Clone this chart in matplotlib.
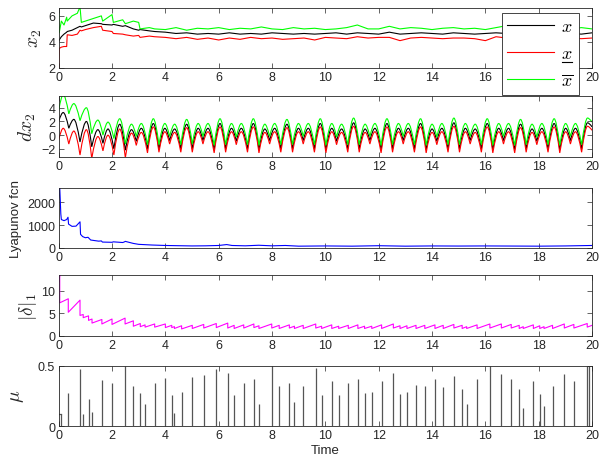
import numpy as np
import matplotlib
matplotlib.use("Agg")
import matplotlib.pyplot as plt
from matplotlib.lines import Line2D
from matplotlib.path import Path
from matplotlib.patches import PathPatch

plt.rcParams['font.family'] = ['Liberation Sans', 'DejaVu Sans']
plt.rcParams['mathtext.fontset'] = 'cm'

# ---------------- data ----------------
x2_t = [0, 0.02, 0.1, 0.2, 0.3, 0.32, 0.5, 0.7, 0.8, 0.85, 1.0, 1.3, 1.6, 1.65, 2.0, 2.05,
        2.4, 2.5, 2.8, 3.0, 3.05, 3.4, 3.6, 4.0, 4.4, 4.8, 5.2, 5.6, 6.0, 6.4, 6.8, 7.2,
        7.6, 8.0, 8.4, 8.8, 9.2, 9.6, 10.0, 10.4, 10.8, 11.2, 11.6, 12.0, 12.4, 12.8, 13.2,
        13.6, 14.0, 14.4, 14.8, 15.2, 15.6, 16.0, 16.4, 16.8, 17.2, 17.6, 18.0, 18.4, 18.8,
        19.2, 19.6, 20.0]
x2_mid = [4.05, 4.15, 4.4, 4.6, 4.75, 4.8, 4.9, 5.1, 5.2, 5.15, 5.25, 5.45, 5.4, 5.35, 5.3, 5.35,
          5.2, 5.25, 5.0, 4.9, 4.95, 4.85, 4.8, 4.75, 4.65, 4.7, 4.6, 4.65, 4.6, 4.7, 4.6, 4.65,
          4.6, 4.7, 4.65, 4.6, 4.65, 4.6, 4.65, 4.7, 4.6, 4.7, 4.65, 4.6, 4.75, 4.6, 4.65,
          4.7, 4.65, 4.6, 4.7, 4.65, 4.6, 4.65, 4.7, 4.65, 4.6, 4.7, 4.65, 4.6, 4.7,
          4.65, 4.6, 4.7]
x2_low = [2.0, 3.5, 3.6, 3.65, 3.65, 4.55, 4.5, 4.6, 4.9, 4.85, 4.95, 5.1, 5.2, 4.9, 4.8, 4.65,
          4.6, 4.55, 4.45, 4.5, 4.35, 4.45, 4.4, 4.35, 4.25, 4.35, 4.2, 4.3, 4.15, 4.3, 4.2, 4.35,
          4.25, 4.3, 4.2, 4.25, 4.3, 4.15, 4.35, 4.3, 4.25, 4.4, 4.3, 4.35, 4.35, 4.1, 4.3,
          4.35, 4.3, 4.25, 4.3, 4.3, 4.25, 4.1, 4.4, 4.3, 4.35, 4.3, 4.25, 4.3, 4.35,
          4.3, 4.25, 4.3]
x2_up = [6.25, 4.7, 5.6, 5.3, 5.9, 5.6, 6.0, 6.2, 6.7, 5.5, 5.6, 5.8, 6.0, 5.6, 6.1, 5.5,
         5.7, 5.4, 5.6, 5.5, 5.0, 5.1, 5.0, 4.95, 5.1, 4.9, 5.05, 5.0, 5.1, 4.95, 5.05, 5.0,
         5.15, 5.0, 4.95, 5.1, 5.0, 5.05, 4.95, 5.0, 5.1, 5.3, 5.0, 5.0, 5.2, 5.0, 5.1,
         5.05, 4.95, 5.05, 5.1, 5.0, 5.05, 4.95, 5.1, 5.25, 5.0, 5.05, 5.1, 5.0, 5.05,
         5.0, 5.1, 5.0]

# dx2: alternating trough / peak values (peaks at odd positions)
dx_t = [0.00, 0.17, 0.38, 0.57, 0.80,
        1.04, 1.24, 1.47, 1.66, 1.85, 2.07,
        2.29, 2.50, 2.73, 2.91, 3.10, 3.33,
        3.55, 3.76, 3.98, 4.16, 4.35, 4.58,
        4.80, 5.01, 5.23, 5.41, 5.60, 5.83,
        6.05, 6.26, 6.48, 6.66, 6.85, 7.08,
        7.30, 7.51, 7.73, 7.91, 8.10, 8.33,
        8.56, 8.77, 8.99, 9.17, 9.36, 9.59,
        9.81, 10.02, 10.24, 10.42, 10.61, 10.84,
        11.06, 11.27, 11.49, 11.67, 11.86, 12.09,
        12.31, 12.52, 12.74, 12.92, 13.11, 13.34,
        13.57, 13.78, 14.00, 14.18, 14.37, 14.60,
        14.82, 15.03, 15.25, 15.43, 15.62, 15.85,
        16.07, 16.28, 16.50, 16.68, 16.87, 17.10,
        17.32, 17.53, 17.75, 17.93, 18.12, 18.35,
        18.58, 18.79, 19.01, 19.19, 19.38, 19.61,
        19.83, 20.00]
dx_mid = [2.0, 3.3, 1.0, 2.3, -1.0,
          2.0, -1.7, 0.8, -1.2, 0.9, -2.0,
          1.6, -2.2, 0.8, -0.9, 1.0, -2.0,
          1.7, -2.1, 1.0, -0.8, 0.9, -2.0,
          1.6, -2.0, 1.0, -0.8, 1.0, -2.1,
          1.7, -2.0, 1.0, -0.9, 1.0, -2.0,
          1.7, -2.1, 0.9, -0.8, 1.0, -2.0,
          1.6, -2.0, 1.0, -0.8, 1.0, -2.0,
          1.7, -2.1, 1.0, -0.9, 0.9, -2.0,
          1.8, -2.0, 0.9, -0.8, 1.0, -2.1,
          1.7, -2.0, 1.0, -0.8, 1.0, -2.0,
          1.7, -2.1, 0.9, -0.9, 1.0, -2.0,
          1.8, -2.0, 1.0, -0.8, 0.9, -2.0,
          1.7, -2.1, 1.0, -0.8, 1.0, -2.1,
          1.6, -2.0, 0.9, -0.9, 1.0, -2.0,
          1.7, -2.1, 1.0, -0.8, 1.0, -2.0,
          1.8, 1.2]
dx_up = [3.6, 5.9, 3.1, 4.6, 2.1,
         4.0, 0.2, 2.2, 0.0, 1.9, -0.5,
         2.4, -1.3, 1.6, -0.2, 1.7, -1.4,
         2.4, -1.4, 1.7, -0.2, 1.6, -1.4,
         2.3, -1.3, 1.7, -0.2, 1.7, -1.5,
         2.4, -1.4, 1.7, -0.3, 1.7, -1.4,
         2.4, -1.5, 1.6, -0.2, 1.7, -1.4,
         2.3, -1.4, 1.7, -0.2, 1.7, -1.4,
         2.4, -1.5, 1.7, -0.3, 1.6, -1.4,
         2.5, -1.4, 1.6, -0.2, 1.7, -1.5,
         2.4, -1.4, 1.7, -0.2, 1.7, -1.4,
         2.4, -1.5, 1.6, -0.3, 1.7, -1.4,
         2.5, -1.4, 1.7, -0.2, 1.6, -1.4,
         2.4, -1.5, 1.7, -0.2, 1.7, -1.5,
         2.3, -1.4, 1.6, -0.3, 1.7, -1.4,
         2.4, -1.5, 1.7, -0.2, 1.7, -1.4,
         2.5, 1.9]
dx_low = [-0.7, 1.0, -1.3, 0.6, -2.9,
          0.8, -3.4, -0.2, -2.3, 0.0, -2.9,
          0.9, -3.3, 0.3, -1.5, 0.4, -2.6,
          1.2, -2.5, 0.5, -1.3, 0.4, -2.5,
          1.1, -2.5, 0.5, -1.3, 0.5, -2.6,
          1.2, -2.5, 0.5, -1.4, 0.5, -2.5,
          1.2, -2.6, 0.4, -1.3, 0.5, -2.5,
          1.1, -2.5, 0.5, -1.3, 0.5, -2.5,
          1.2, -2.6, 0.5, -1.4, 0.4, -2.5,
          1.3, -2.5, 0.4, -1.3, 0.5, -2.6,
          1.2, -2.5, 0.5, -1.3, 0.5, -2.5,
          1.2, -2.6, 0.4, -1.4, 0.5, -2.5,
          1.3, -2.5, 0.5, -1.3, 0.4, -2.5,
          1.2, -2.6, 0.5, -1.3, 0.5, -2.6,
          1.1, -2.5, 0.4, -1.4, 0.5, -2.5,
          1.2, -2.6, 0.5, -1.3, 0.5, -2.5,
          1.3, 0.7]

lyap_t = [0, 0.04, 0.08, 0.1, 0.2, 0.3, 0.35, 0.37, 0.5, 0.65, 0.8, 0.82, 0.9, 1.0, 1.1,
          1.2, 1.5, 1.6, 1.64, 2.0, 2.05, 2.4, 2.45, 2.5, 2.8, 3.0, 3.5, 4.0, 4.5, 5.0,
          5.5, 6.0, 6.3, 6.5, 7.0, 7.5, 8.0, 8.5, 9.0, 10, 11, 12, 13, 14, 15, 16, 17,
          18, 19, 20]
lyap_v = [2200, 2650, 1500, 1250, 1200, 1250, 1350, 1050, 950, 960, 1150, 600, 500, 450, 470,
          350, 300, 310, 260, 250, 270, 240, 260, 290, 200, 160, 130, 110, 100, 90,
          95, 110, 150, 110, 95, 120, 95, 110, 80, 90, 80, 100, 80, 90, 85, 90, 85,
          80, 90, 110]

delta_t0, delta_v0 = 0.0, 12.0
delta_ev = [0.04, 0.36, 0.8, 0.92, 1.12, 1.25, 1.62, 2.0, 2.49, 2.8, 3.06, 3.24, 3.6, 4.0,
            4.24, 4.34, 4.61, 5.01, 5.44, 5.91, 6.34, 6.58, 6.94, 7.32, 7.51, 7.99, 8.27,
            8.65, 8.84, 9.17, 9.64, 9.86, 10.24, 10.5, 10.86, 11.22, 11.47, 11.74, 12.11,
            12.55, 12.8, 13.06, 13.4, 13.73, 14.11, 14.42, 14.82, 15.13, 15.3, 15.69,
            16.17, 16.6, 16.97, 17.27, 17.42, 17.8, 18.04, 18.2, 18.52, 18.96, 19.32, 19.82]
delta_hi = [13.4, 8.2, 7.9, 4.7, 4.4, 3.7, 3.6, 3.7, 3.9, 3.3, 2.7, 2.4, 2.6, 2.6,
            2.3, 2.0, 2.2, 2.3, 2.5, 2.7, 2.8, 2.3, 2.4, 2.6, 2.2, 2.6, 2.3,
            2.4, 2.1, 2.3, 2.6, 2.1, 2.4, 2.1, 2.3, 2.4, 2.1, 2.1, 2.4,
            2.6, 2.2, 2.2, 2.3, 2.3, 2.4, 2.3, 2.5, 2.3, 2.0, 2.4,
            2.6, 2.6, 2.5, 2.3, 2.0, 2.4, 2.2, 2.0, 2.3, 2.6, 2.5, 2.7]
delta_lo = [7.3, 5.2, 4.5, 4.0, 3.4, 2.8, 2.6, 2.5, 2.6, 2.1, 2.0, 1.9, 1.9, 1.8,
            1.8, 1.6, 1.5, 1.6, 1.7, 1.8, 1.7, 1.6, 1.7, 1.8, 1.6, 1.7, 1.6,
            1.7, 1.6, 1.6, 1.7, 1.6, 1.6, 1.6, 1.6, 1.6, 1.6, 1.6, 1.6,
            1.7, 1.6, 1.6, 1.6, 1.6, 1.6, 1.6, 1.7, 1.6, 1.6, 1.6,
            1.7, 1.7, 1.7, 1.6, 1.6, 1.6, 1.6, 1.6, 1.6, 1.7, 1.7, 1.9]
delta_end = 2.3

mu_t = [0.1, 0.36, 0.8, 0.92, 1.12, 1.25, 1.62, 2.0, 2.49, 2.8, 3.06, 3.24, 3.6, 4.0,
        4.24, 4.34, 4.61, 5.01, 5.44, 5.91, 6.34, 6.58, 6.94, 7.32, 7.51, 7.99, 8.27,
        8.65, 8.84, 9.17, 9.64, 9.86, 10.24, 10.5, 10.86, 11.22, 11.47, 11.74, 12.11,
        12.55, 12.8, 13.06, 13.4, 13.73, 14.11, 14.42, 14.82, 15.13, 15.3, 15.69,
        16.17, 16.6, 16.97, 17.27, 17.42, 17.8, 18.04, 18.2, 18.52, 18.96, 19.32, 19.82, 19.9]
mu_h = [0.1, 0.27, 0.47, 0.1, 0.225, 0.12, 0.38, 0.36, 0.5, 0.33, 0.27, 0.18, 0.355, 0.4,
        0.26, 0.11, 0.28, 0.41, 0.42, 0.475, 0.44, 0.26, 0.355, 0.39, 0.18, 0.5, 0.33,
        0.355, 0.2, 0.33, 0.48, 0.255, 0.37, 0.26, 0.355, 0.39, 0.27, 0.28, 0.37,
        0.44, 0.265, 0.28, 0.34, 0.33, 0.39, 0.32, 0.415, 0.31, 0.18, 0.39,
        0.5, 0.43, 0.39, 0.31, 0.15, 0.37, 0.265, 0.165, 0.33, 0.43, 0.375, 0.5, 0.5]
mu_init = 0.1

xticks = [0, 2, 4, 6, 8, 10, 12, 14, 16, 18, 20]


def arch_path(t, v, f=0.6):
    """Curve through the listed extrema: rounded peaks, cusped troughs."""
    verts = [(t[0], v[0])]
    codes = [Path.MOVETO]
    for k in range(1, len(t) - 1, 2):
        t0, tk, t1 = t[k - 1], t[k], t[k + 1]
        verts += [(t0 + f * (tk - t0), v[k]), (tk, v[k]),
                  (tk + (1 - f) * (t1 - tk), v[k]), (t1, v[k + 1])]
        codes += [Path.CURVE3] * 4
    return Path(verts, codes)


# ---------------- figure ----------------
fig = plt.figure(figsize=(6.0, 4.64), dpi=100)
left, width, h = 0.0978, 0.8889, 0.130
bottoms = [0.8513, 0.6601, 0.4634, 0.2744, 0.0797]
axes = [fig.add_axes([left, b, width, h]) for b in bottoms]

tc = '#262626'
for ax in axes:
    ax.set_xlim(0, 20)
    ax.set_xticks(xticks)
    ax.tick_params(direction='in', length=3.5, width=0.5, top=True, right=True,
                   labelsize=9, colors=tc, pad=2.5)
    for s in ax.spines.values():
        s.set_linewidth(0.6)
        s.set_color(tc)

lw = 0.8
ax = axes[0]
l1, = ax.plot(x2_t, x2_mid, color='black', lw=lw)
l2, = ax.plot(x2_t, x2_low, color='#ff0000', lw=lw)
l3, = ax.plot(x2_t, x2_up, color='#00ff00', lw=lw)
ax.set_ylim(2, 6.63)
ax.set_yticks([2, 4, 6])
ax.set_ylabel('$x_2$', fontsize=14, color=tc)
ax.yaxis.set_label_coords(-0.027, 0.5)

leg = fig.legend([l1, l2, l3], ['$x$', '$x$', r'$\overline{x}$'],
                 loc='upper right', bbox_to_anchor=(0.965, 0.970),
                 bbox_transform=fig.transFigure, borderaxespad=0,
                 fontsize=13, handlelength=2.6, labelspacing=0.55,
                 borderpad=0.3, handletextpad=0.4,
                 fancybox=False, framealpha=1, edgecolor=tc)
leg.get_frame().set_linewidth(0.6)

ax = axes[1]
for vals, col in [(dx_mid, 'black'), (dx_low, '#ff0000'), (dx_up, '#00ff00')]:
    ax.add_patch(PathPatch(arch_path(dx_t, vals), facecolor='none', edgecolor=col,
                           lw=lw))
ax.set_ylim(-3.15, 5.65)
ax.set_yticks([-2, 0, 2, 4])
ax.set_ylabel('$dx_2$', fontsize=14, color=tc)
ax.yaxis.set_label_coords(-0.039, 0.5)

ax = axes[2]
ax.plot(lyap_t, lyap_v, color='#0000ff', lw=lw)
ax.set_ylim(0, 2650)
ax.set_yticks([0, 1000, 2000])
ax.set_ylabel('Lyapunov fcn', fontsize=9.5, color=tc)
ax.yaxis.set_label_coords(-0.068, 0.5)

ax = axes[3]
dt_pts = [delta_t0]
dv_pts = [delta_v0]
for te, hi, lo in zip(delta_ev, delta_hi, delta_lo):
    dt_pts += [te, te]
    dv_pts += [hi, lo]
dt_pts.append(20)
dv_pts.append(delta_end)
ax.plot(dt_pts, dv_pts, color='#ff00ff', lw=lw)
ax.set_ylim(0, 13.4)
ax.set_yticks([0, 5, 10])
ax.set_ylabel(r'$|\delta|_1$', fontsize=14, color=tc)
ax.yaxis.set_label_coords(-0.037, 0.5)

ax = axes[4]
ax.vlines(mu_t, 0, mu_h, color='#555555', lw=0.9)
ax.plot([0, 0.1], [mu_init, mu_init], color='#555555', lw=0.9)
ax.set_ylim(0, 0.5)
ax.set_yticks([0, 0.5])
ax.set_yticklabels(['0', '0.5'])
ax.set_ylabel(r'$\mu$', fontsize=14, color=tc)
ax.yaxis.set_label_coords(-0.061, 0.5)
ax.set_xlabel('Time', fontsize=9.5, color=tc, labelpad=2)

# underline for the lower-bound legend entry
fig.canvas.draw()
r = fig.canvas.get_renderer()
tb = leg.get_texts()[1].get_window_extent(r)
W, H = fig.bbox.width, fig.bbox.height
uy = (tb.y0 + 0.5) / H
fig.add_artist(Line2D([(tb.x0 + 1) / W, (tb.x1 - 1) / W], [uy, uy],
                      transform=fig.transFigure, color='black', lw=0.8, zorder=10))

fig.savefig('out.png', dpi=100)
